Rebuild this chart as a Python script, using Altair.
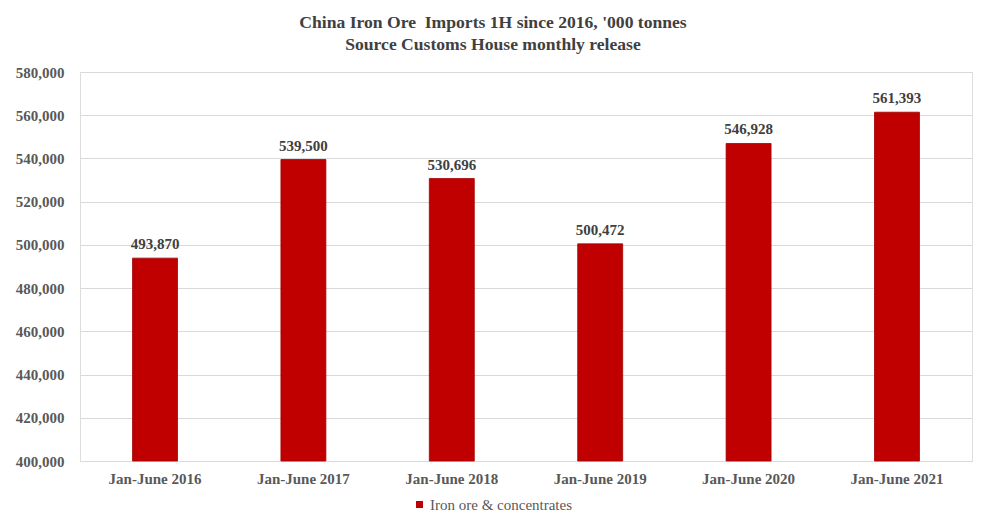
import altair as alt
import pandas as pd

categories = ["Jan-June 2016", "Jan-June 2017", "Jan-June 2018",
              "Jan-June 2019", "Jan-June 2020", "Jan-June 2021"]
values = [493870, 539500, 530696, 500472, 546928, 561393]
series_name = "Iron ore & concentrates"
y_ticks = [400000, 420000, 440000, 460000, 480000, 500000, 520000, 540000, 560000, 580000]

df = pd.DataFrame({"period": categories, "value": values, "series": series_name})

FONT = "Liberation Serif"
TXT = "#595959"
RED = "#C00000"

base = alt.Chart(df).encode(
    x=alt.X("period:N", sort=categories, title=None,
            scale=alt.Scale(paddingInner=0.697, paddingOuter=0.354),
            axis=alt.Axis(labelAngle=0, labelFont=FONT, labelFontSize=15,
                          labelFontWeight="bold", labelColor=TXT, ticks=False,
                          domain=True, domainColor="#d9d9d9", domainWidth=1.2,
                          labelPadding=10)),
    y=alt.Y("value:Q", title=None,
            scale=alt.Scale(domain=[400000, 580000], zero=False),
            axis=alt.Axis(values=y_ticks, format=",.0f",
                          labelFont=FONT, labelFontSize=15, labelFontWeight="bold",
                          labelColor=TXT, ticks=False, domain=False, labelPadding=16,
                          grid=True, gridColor="#d9d9d9", gridWidth=1.2)),
)

bars = base.mark_bar(color=RED, stroke="#a00000", strokeWidth=0.8).encode(
    y2=alt.Y2(datum=400000),
    color=alt.Color("series:N", scale=alt.Scale(range=[RED]),
                    legend=alt.Legend(title=None, orient="none", legendX=332, legendY=425,
                                      labelFont=FONT, labelFontSize=15, labelColor=TXT,
                                      symbolType="square", symbolSize=49,
                                      symbolStrokeWidth=0, labelOffset=3)),
)

labels = base.mark_text(dy=-14, font=FONT, fontSize=15, fontWeight="bold",
                        color="#404040").encode(
    text=alt.Text("value:Q", format=",.0f"),
)

chart = (bars + labels).properties(
    width=892, height=389,
    autosize=alt.AutoSizeParams(type="none"),
    padding={"left": 72, "top": 64, "right": 2, "bottom": 69},
    title=alt.TitleParams(
        text=["China Iron Ore\u00a0 Imports 1H since 2016, '000 tonnes",
              "Source Customs House monthly release"],
        font=FONT, fontSize=17.6, fontWeight="bold", color="#404040",
        anchor="middle", offset=11, lineHeight=22, dx=-33),
).configure_view(stroke=None).configure(background="white")

chart.save("out.html", embed_options={"renderer": "svg", "actions": False})
